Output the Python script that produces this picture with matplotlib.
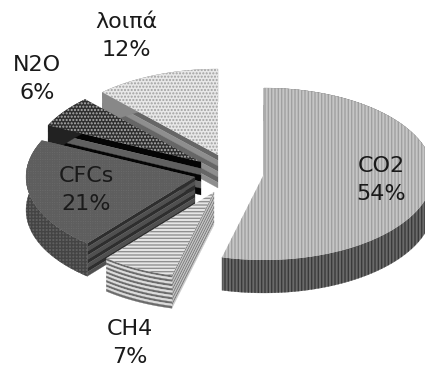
import numpy as np
import matplotlib
matplotlib.use("Agg")
import matplotlib.pyplot as plt
from matplotlib.patches import Polygon

labels = ['CO2', 'CH4', 'CFCs', 'N2O', 'λοιπά']
shares = [54, 7, 21, 6, 12]

# layout in pixels, y going down
apex = [(264, 174), (214, 192), (195, 177), (201, 162), (218, 155)]
label_pos = [(381, 180), (130, 343), (86, 190), (37, 79), (126, 36)]
top_color = ['#c6c6c6', '#e6e6e6', '#6c6c6c', '#2e2e2e', '#e8e8e8']
top_hatch_color = ['#a0a0a0', '#909090', '#5e5e5e', '#b0b0b0', '#a0a0a0']
top_hatch = ['|||||', '-----', '+++++++', '.....', '.....']
# stripes on the walls: (dark, light, number of bands)
radial_wall = [('#666666', '#777777', 2), ('#777777', '#c8c8c8', 14),
               ('#2e2e2e', '#505050', 8), ('#050505', '#606060', 5),
               ('#666666', '#8e8e8e', 6)]
arc_wall = [('#6a6a6a', '#6a6a6a', 1), ('#6c6c6c', '#dcdcdc', 15),
            ('#606060', '#606060', 1), ('#222222', '#222222', 1),
            ('#888888', '#888888', 1)]
arc_hatch = ['|||||', '', '+++++', '', '']
arc_hatch_color = ['#3a3a3a', 'none', '#444444', 'none', 'none']
rx, ry, depth = 169, 86, 33

plt.rcParams['hatch.linewidth'] = 1.0
fig = plt.figure(figsize=(4.25, 3.67), dpi=100)
ax = fig.add_axes([0, 0, 1, 1])
ax.set_xlim(0, 425)
ax.set_ylim(367, 0)
ax.axis('off')

ends = np.cumsum(shares) / np.sum(shares) * 2 * np.pi
starts = np.r_[0, ends[:-1]]


def wall(path, style, z, hatch='', hatch_color='none'):
    dark, light, n = style
    for k in range(n):
        upper = path + [0, depth * k / n]
        lower = path + [0, depth * (k + 1) / n]
        colour = dark if k % 2 == 0 else light
        ax.add_patch(Polygon(np.vstack([upper, lower[::-1]]), closed=True, facecolor=colour,
                             edgecolor=colour, linewidth=0.2, zorder=z))
    if hatch:
        ax.add_patch(Polygon(np.vstack([path, (path + [0, depth])[::-1]]), closed=True,
                             facecolor='none', edgecolor=hatch_color, hatch=hatch,
                             linewidth=0, zorder=z))


# back to front: others, N2O, CFCs, CH4, CO2
for z, i in enumerate([4, 3, 2, 1, 0]):
    t = np.linspace(starts[i], ends[i], 80)
    arc = np.column_stack([apex[i][0] + rx * np.sin(t), apex[i][1] - ry * np.cos(t)])
    centre = np.array([apex[i]], dtype=float)

    wall(np.vstack([centre, arc[:1]]), radial_wall[i], z * 3)
    wall(arc, arc_wall[i], z * 3 + 1, arc_hatch[i], arc_hatch_color[i])
    ax.add_patch(Polygon(np.vstack([centre, arc]), closed=True, facecolor=top_color[i],
                         edgecolor=top_hatch_color[i], hatch=top_hatch[i],
                         linewidth=0, zorder=z * 3 + 2))

for name, share, pos in zip(labels, shares, label_pos):
    ax.text(pos[0], pos[1], f'{name}\n{share}%', fontsize=16, color='#1a1a1a',
            ha='center', va='center', zorder=50, linespacing=1.47)

fig.savefig('out.png', dpi=100)
